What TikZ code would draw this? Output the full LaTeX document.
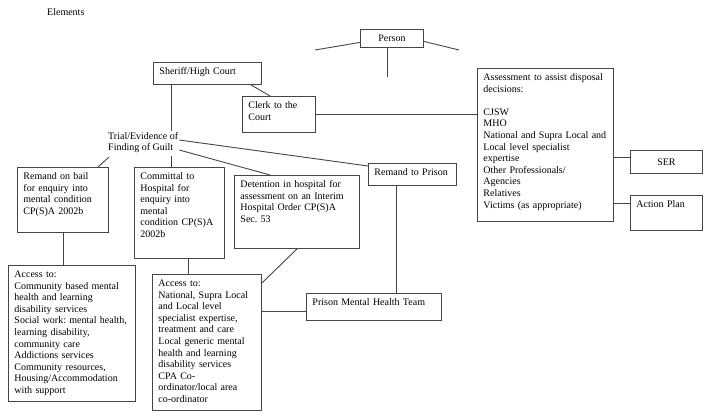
\documentclass[tikz,border=0pt]{standalone}
\usepackage{fontspec}
\setmainfont{Liberation Serif}
\usetikzlibrary{calc, positioning}
\definecolor{linegray}{HTML}{454545}
\tikzset{
    elbox/.style 2 args = {
        draw=linegray, rectangle, line width=0.9pt, anchor=north west, align=left,
        inner xsep=6pt, inner ysep=5pt, text height=7pt, text width=#1, text depth=#2
    },
    midbox/.style 2 args = {
        draw=linegray, rectangle, line width=0.9pt, anchor=north west, align=center,
        minimum width=#1, minimum height=#2, inner sep=0pt
    },
    wire/.style = {draw=linegray, line width=0.9pt}
}

\begin{document}
\begin{tikzpicture}[x=1pt, y=-1pt, every node/.style={font=\fontsize{10}{11.6}\selectfont\frenchspacing}]
        \useasboundingbox (0,0) rectangle (710,419);
        % Place the boxes
        \node[anchor=west, inner sep=0pt] (elements) at (47,12) {Elements};
        \node[midbox={63pt}{18pt}] (person) at (360,29) {Person};
        \node[elbox={96pt}{5pt}] (sheriff) at (153,62) {Sheriff/High Court};
        \node[elbox={61pt}{19pt}] (clerk) at (242,96) {Clerk to the\\Court};
        \node[elbox={124pt}{136pt}] (assess) at (477,68) {Assessment to assist disposal\\decisions:\\[11.6pt]CJSW\\MHO\\National and Supra Local and\\Local level specialist\\expertise\\Other Professionals/\\Agencies\\Relatives\\Victims (as appropriate)};
        \node[midbox={72pt}{23pt}] (ser) at (630,150) {SER};
        \node[elbox={60pt}{18pt}] (actionplan) at (630,195) {Action Plan};
        \node[anchor=north west, inner sep=1pt, align=left] (trial) at (107,131) {Trial/Evidence of\\Finding of Guilt};
        \node[elbox={79pt}{48pt}] (remandbail) at (17,167) {Remand on bail\\for enquiry into\\mental condition\\CP(S)A 2002b};
        \node[elbox={78pt}{74pt}] (committal) at (134,167) {Committal to\\Hospital for\\enquiry into\\mental\\condition CP(S)A\\2002b};
        \node[elbox={113pt}{56pt}] (detention) at (234,175) {Detention in hospital for\\assessment on an Interim\\Hospital Order CP(S)A\\Sec. 53};
        \node[elbox={76pt}{5pt}] (remandprison) at (368,163) {Remand to Prison};
        \node[elbox={115pt}{119pt}] (access1) at (8,265) {Access to:\\Community based mental\\health and learning\\disability services\\Social work: mental health,\\learning disability,\\community care\\Addictions services\\Community resources,\\Housing/Accommodation\\with support};
        \node[elbox={97pt}{119pt}] (access2) at (152,274) {Access to:\\National, Supra Local\\and Local level\\specialist expertise,\\treatment and care\\Local generic mental\\health and learning\\disability services\\CPA Co-\\ordinator/local area\\co-ordinator};
        \node[elbox={123pt}{10pt}] (pmht) at (306,293) {Prison Mental Health Team};

        % Connect the boxes
        \begin{scope}[wire]
            \coordinate (pdrop) at (387,77);
            \coordinate (pleft) at (315,50);
            \coordinate (pright) at (459,50);
            \draw (pdrop |- person.south) -- (pdrop);
            \draw ([yshift=-4pt]person.west) -- (pleft);
            \draw ([yshift=-3pt]person.east) -- (pright);
            \draw ([xshift=98pt]sheriff.south west) -- ([xshift=28pt]clerk.north west);
            \coordinate (sdrop) at ([xshift=18pt]sheriff.south west);
            \draw (sdrop) -- (sdrop |- trial.north);
            \draw (clerk.east) -- (clerk.east -| assess.west);
            \coordinate (serin) at ([yshift=-7pt]ser.north west);
            \draw (serin -| assess.east) -- (serin);
            \coordinate (apin) at ([yshift=-8pt]actionplan.north west);
            \draw (apin -| assess.east) -- (apin);
            \draw ([yshift=-9pt]trial.north east) -- ([yshift=-3pt]remandprison.north west);
            \draw ([yshift=-19pt]trial.north east) -- ([xshift=36pt]detention.north west);
            \draw ([xshift=2pt, yshift=-3pt]trial.south west) -- ([xshift=81pt]remandbail.north west);
            \coordinate (cup) at ([xshift=37pt]committal.north west);
            \draw ([yshift=-2pt]cup |- trial.south) -- (cup);
            \coordinate (rbdrop) at ([xshift=46pt]remandbail.south west);
            \draw (rbdrop) -- (rbdrop |- access1.north);
            \coordinate (cdrop) at ([xshift=54pt]committal.south west);
            \draw (cdrop) -- (cdrop |- access2.north);
            \draw ([xshift=63pt]detention.south west) -- ([yshift=-9pt]access2.north east);
            \coordinate (pmin) at ([yshift=9pt]pmht.south west);
            \draw (pmin -| access2.east) -- (pmin);
            \coordinate (rpdrop) at ([xshift=28pt]remandprison.south west);
            \draw (rpdrop) -- (rpdrop |- pmht.north);
        \end{scope}
    \end{tikzpicture}
\end{document}
